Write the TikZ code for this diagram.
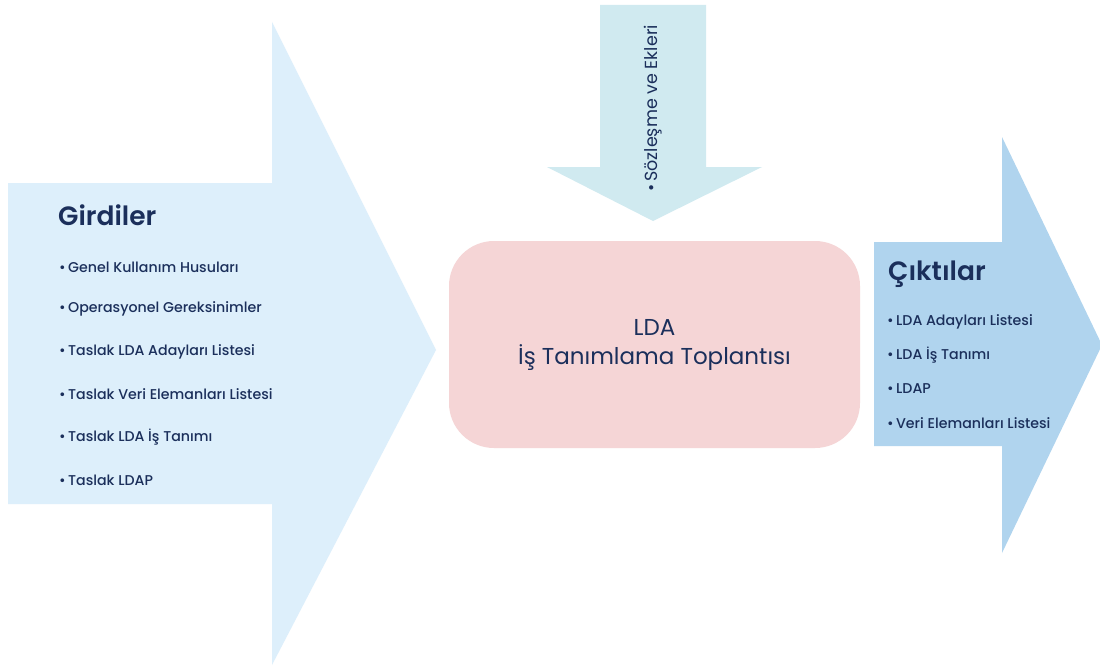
\documentclass[tikz,border=0pt]{standalone}
\usepackage{fontspec}
\setmainfont{Poppins}
\newfontfamily\medfont{Poppins Medium}
\newfontfamily\semifont{Poppins SemiBold}
\definecolor{inblue}{HTML}{DDEFFB}
\definecolor{topblue}{HTML}{D0EAF0}
\definecolor{outblue}{HTML}{B0D4EE}
\definecolor{meetpink}{HTML}{F5D5D6}
\definecolor{navy}{HTML}{1B2F5B}
\begin{document}
\begin{tikzpicture}[x=1pt,y=-1pt,
  heading/.style={anchor=base west,text=navy,font=\fontsize{26.5}{30}\selectfont\semifont,inner sep=0pt},
  item/.style={anchor=west,text=navy,font=\fontsize{14.2}{16}\selectfont\medfont,inner sep=0pt},
  meeting/.style={fill=meetpink,rounded corners=45pt,minimum width=411pt,minimum height=207pt,
    text=navy,align=center,font=\fontsize{23}{29}\selectfont,inner sep=0pt}]
\useasboundingbox (0,0) rectangle (1100,669);
\fill[white] (0,0) rectangle (1100,669);

% input arrow
\fill[inblue] (8,183) -- (272,183) -- (272,22) -- (436,350) -- (272,665) -- (272,504) -- (8,504) -- cycle;
% contract arrow from above
\fill[topblue] (600,5) -- (706,5) -- (706,167) -- (762,167) -- (653,221) -- (547,167) -- (600,167) -- cycle;
% output arrow
\fill[outblue] (874,242) -- (1002,242) -- (1002,137) -- (1102,345) -- (1002,553) -- (1002,446) -- (874,446) -- cycle;

% meeting box
\node[meeting] (meet) at (654.5,344.5) {LDA\\İş Tanımlama Toplantısı};

% inputs
\node[heading] (inh) at (58,225) {Girdiler};
\node[item] (in1) at (59,267) {•\,Genel Kullanım Husuları};
\node[item] (in2) at (59,309) {•\,Operasyonel Gereksinimler};
\node[item] (in3) at (59,352) {•\,Taslak LDA Adayları Listesi};
\node[item] (in4) at (59,394) {•\,Taslak Veri Elemanları Listesi};
\node[item] (in5) at (59,437) {•\,Taslak LDA İş Tanımı};
\node[item] (in6) at (59,480) {•\,Taslak LDAP};

% contract
\node[item,rotate=90,font=\fontsize{17.5}{18}\selectfont] (ctr) at (653,192) {•\,Sözleşme ve Ekleri};

% outputs
\node[heading] (outh) at (888,280) {Çıktılar};
\node[item] (out1) at (887,322) {•\,LDA Adayları Listesi};
\node[item] (out2) at (887,355) {•\,LDA İş Tanımı};
\node[item] (out3) at (887,389) {•\,LDAP};
\node[item] (out4) at (887,423) {•\,Veri Elemanları Listesi};
\end{tikzpicture}
\end{document}
